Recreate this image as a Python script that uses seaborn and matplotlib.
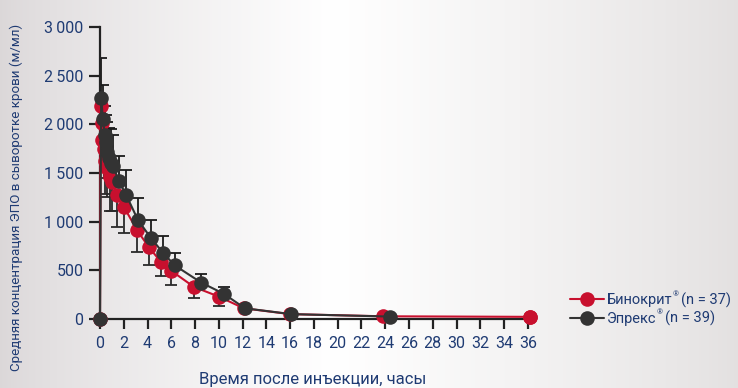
import numpy as np
import pandas as pd
import matplotlib
matplotlib.use("Agg")
import matplotlib.pyplot as plt
from matplotlib.lines import Line2D
import seaborn as sns

# Mean serum EPO concentration after injection
binocrit_t = [0, 0.05, 0.15, 0.2, 0.3, 0.45, 0.55, 0.8, 1.0, 1.4, 2.0, 3.1, 4.1, 5.1, 6.0, 7.9, 10.0, 12.1, 16.0, 23.8, 36.2]
binocrit_v = [0, 2190, 2010, 1840, 1745, 1620, 1550, 1460, 1410, 1275, 1155, 915, 740, 590, 495, 330, 230, 110, 50, 28, 22]
binocrit_sd = [0, 300, 300, 300, 295, 335, 300, 350, 300, 330, 270, 226, 185, 150, 148, 116, 95, 0, 0, 0, 0]

eprex_t = [0, 0.1, 0.25, 0.4, 0.5, 0.6, 0.75, 0.9, 1.1, 1.6, 2.2, 3.2, 4.3, 5.3, 6.3, 8.5, 10.4, 12.2, 16.1, 24.4]
eprex_v = [0, 2270, 2050, 1890, 1820, 1720, 1650, 1600, 1570, 1415, 1275, 1015, 830, 680, 550, 375, 260, 110, 50, 25]
eprex_sd = [0, 410, 350, 300, 280, 300, 310, 350, 320, 260, 260, 225, 185, 170, 125, 85, 70, 0, 0, 0]

x_ticks = list(range(0, 37, 2))
y_ticks = [0, 500, 1000, 1500, 2000, 2500, 3000]
y_tick_labels = ["0", "500", "1\u2009000", "1\u2009500", "2\u2009000", "2\u2009500", "3\u2009000"]

legend_names = ["Бинокрит", "Эпрекс"]
legend_counts = ["(n = 37)", "(n = 39)"]

RED = "#C8102E"
DARK = "#333333"
NAVY = "#1F3B73"
MS = 10.5

sns.set_theme(style="white")
plt.rcParams["font.family"] = ["Roboto", "DejaVu Sans"]

fig = plt.figure(figsize=(7.38, 3.88), dpi=100)

# soft grey-white-grey background
bg = fig.add_axes([0, 0, 1, 1], zorder=-10)
gx = np.linspace(0, 1, 400)
left = np.array([0.86, 0.845, 0.85])
right = np.array([0.89, 0.88, 0.88])
row = np.zeros((400, 3))
for i in range(400):
    if gx[i] < 0.45:
        ww = np.clip(1 - abs(gx[i] - 0.45) / 0.45, 0, 1) ** 0.8
        base = left
    else:
        ww = np.clip(1 - abs(gx[i] - 0.45) / 0.55, 0, 1) ** 0.8
        base = right
    row[i] = base * (1 - ww) + np.ones(3) * ww
img = np.tile(row[None, :, :], (50, 1, 1))
bg.imshow(img, aspect="auto", extent=[0, 1, 0, 1])
bg.axis("off")

ax = fig.add_axes([100 / 738, 1 - 319 / 388, 435 / 738, 292 / 388])
ax.patch.set_alpha(0)

df_b = pd.DataFrame({"t": binocrit_t, "v": binocrit_v, "sd": binocrit_sd})
df_e = pd.DataFrame({"t": eprex_t, "v": eprex_v, "sd": eprex_sd})

# error bars: lower for Binocrit, upper for Eprex
mb = df_b["sd"] > 0
ax.errorbar(df_b["t"][mb], df_b["v"][mb], yerr=[df_b["sd"][mb], np.zeros(mb.sum())],
            fmt="none", ecolor="#2a2a2a", elinewidth=1.3, capsize=4.5, capthick=1.3, zorder=2)
me = df_e["sd"] > 0
ax.errorbar(df_e["t"][me], df_e["v"][me], yerr=[np.zeros(me.sum()), df_e["sd"][me]],
            fmt="none", ecolor="#1a1a1a", elinewidth=1.3, capsize=4.5, capthick=1.3, zorder=2)

sns.lineplot(data=df_b, x="t", y="v", ax=ax, color=RED, lw=1.5, marker="o",
             markersize=MS, markeredgewidth=0, sort=False, zorder=3, clip_on=False)
sns.lineplot(data=df_e, x="t", y="v", ax=ax, color=DARK, lw=1.5, marker="o",
             markersize=MS, markeredgewidth=0, sort=False, zorder=4, clip_on=False)
# Binocrit final point drawn on top
ax.plot([binocrit_t[-1]], [binocrit_v[-1]], "o", color=RED, ms=MS, mew=0, zorder=5, clip_on=False)

ax.set_xlim(0, 36.6)
ax.set_ylim(0, 3000)
ax.set_xticks(x_ticks)
ax.set_xticklabels([str(t) for t in x_ticks])
ax.set_yticks(y_ticks)
ax.set_yticklabels(y_tick_labels)

for s in ["top", "right"]:
    ax.spines[s].set_visible(False)
for s in ["left", "bottom"]:
    ax.spines[s].set_color("#222222")
    ax.spines[s].set_linewidth(1.6)
ax.tick_params(axis="x", direction="out", length=7, width=1.6, color="#222222",
               labelsize=11.5, labelcolor=NAVY, pad=5, bottom=True)
ax.tick_params(axis="y", direction="out", length=8, width=1.6, color="#222222",
               labelsize=11.5, labelcolor=NAVY, pad=4, left=True)

ax.set_xlabel("Время после инъекции, часы", fontsize=12, color=NAVY)
ax.set_ylabel("Средняя концентрация ЭПО в сыворотке крови (м/мл)", fontsize=9.6,
              color=NAVY)
ax.xaxis.set_label_coords(0.49, -0.183)
ax.yaxis.set_label_coords(-0.178, 0.416)

# legend: marker-line handles, name with small ® and sample size
handles = [Line2D([0], [0], color=RED, lw=1.5, marker="o", ms=MS, mew=0),
           Line2D([0], [0], color=DARK, lw=1.5, marker="o", ms=MS, mew=0)]
leg = fig.legend(handles, [" ", " "], loc="upper left", bbox_to_anchor=(563 / 738, 1 - 286 / 388),
                 frameon=False, fontsize=10.5, handlelength=2.3, handletextpad=0.2,
                 labelspacing=0.3, borderpad=0)
fig.canvas.draw()
renderer = fig.canvas.get_renderer()
inv = fig.transFigure.inverted()
for txt, name, cnt in zip(leg.get_texts(), legend_names, legend_counts):
    bb = txt.get_window_extent(renderer)
    x0, _ = inv.transform((bb.x0, 0))
    yc = inv.transform((0, (bb.y0 + bb.y1) / 2))[1]
    t1 = fig.text(x0, yc, name, fontsize=10.5, color=NAVY, va="center", ha="left")
    b1 = t1.get_window_extent(renderer)
    xr = inv.transform((b1.x1 + 0.5, 0))[0]
    t2 = fig.text(xr, yc + 6 / 388, "®", fontsize=5.5, color=NAVY, va="center", ha="left")
    b2 = t2.get_window_extent(renderer)
    xr2 = inv.transform((b2.x1 + 2, 0))[0]
    fig.text(xr2, yc, cnt, fontsize=10.5, color=NAVY, va="center", ha="left")

fig.savefig("out.png", dpi=100)
